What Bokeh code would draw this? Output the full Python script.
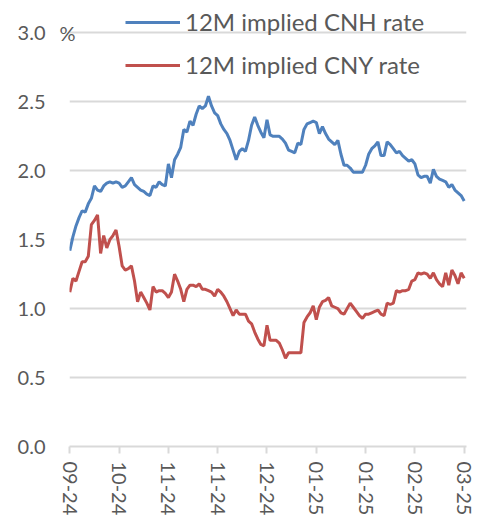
from bokeh.plotting import figure
from bokeh.models import FixedTicker, Range1d, Legend, LegendItem, LinearAxis, NumeralTickFormatter
from bokeh.embed import file_html
from bokeh.resources import INLINE

# ---- data ----
x_tick_labels = ["09-24", "10-24", "11-24", "11-24", "12-24", "01-25", "01-25", "02-25", "03-25"]
x_tick_positions = [0, 16, 32, 48, 64, 80, 96, 112, 128]

cnh_rate = [
    1.42, 1.52, 1.60, 1.66, 1.71, 1.70, 1.76, 1.80, 1.89, 1.86,
    1.85, 1.89, 1.91, 1.92, 1.91, 1.92, 1.91, 1.88, 1.89, 1.92,
    1.95, 1.90, 1.88, 1.86, 1.85, 1.83, 1.82, 1.89, 1.88, 1.92,
    1.90, 1.89, 2.05, 1.95, 2.08, 2.12, 2.17, 2.30, 2.28, 2.36,
    2.33, 2.41, 2.47, 2.45, 2.47, 2.54, 2.47, 2.42, 2.40, 2.34,
    2.30, 2.27, 2.22, 2.15, 2.08, 2.14, 2.16, 2.14, 2.22, 2.33,
    2.39, 2.33, 2.28, 2.24, 2.37, 2.26, 2.25, 2.25, 2.25, 2.23,
    2.20, 2.15, 2.14, 2.13, 2.20, 2.19, 2.30, 2.34, 2.35, 2.36,
    2.35, 2.27, 2.32, 2.27, 2.23, 2.21, 2.19, 2.22, 2.12, 2.04,
    2.04, 2.02, 1.99, 1.99, 1.99, 1.99, 2.04, 2.12, 2.16, 2.18,
    2.21, 2.11, 2.11, 2.21, 2.19, 2.16, 2.13, 2.14, 2.11, 2.09,
    2.07, 2.08, 2.05, 1.97, 1.95, 1.96, 1.96, 1.91, 2.01, 1.96,
    1.94, 1.93, 1.92, 1.88, 1.90, 1.86, 1.84, 1.82, 1.78,
]

cny_rate = [
    1.12, 1.22, 1.20, 1.27, 1.34, 1.34, 1.38, 1.61, 1.64, 1.68,
    1.40, 1.53, 1.44, 1.50, 1.53, 1.57, 1.45, 1.31, 1.28, 1.29,
    1.31, 1.20, 1.05, 1.12, 1.08, 1.04, 0.99, 1.16, 1.12, 1.13,
    1.13, 1.11, 1.08, 1.12, 1.25, 1.20, 1.14, 1.05, 1.14, 1.17,
    1.17, 1.16, 1.18, 1.14, 1.14, 1.13, 1.12, 1.09, 1.14, 1.12,
    1.09, 1.05, 1.00, 0.95, 0.99, 0.96, 0.96, 0.96, 0.91, 0.89,
    0.83, 0.78, 0.74, 0.73, 0.88, 0.77, 0.77, 0.77, 0.75, 0.70,
    0.64, 0.68, 0.68, 0.68, 0.68, 0.68, 0.90, 0.94, 0.97, 1.02,
    0.92, 1.01, 1.05, 1.06, 1.08, 1.02, 1.01, 1.00, 0.97, 0.96,
    1.00, 1.04, 1.01, 0.98, 0.95, 0.93, 0.96, 0.96, 0.97, 0.98,
    0.99, 0.96, 0.95, 1.04, 1.03, 1.04, 1.13, 1.12, 1.13, 1.13,
    1.14, 1.20, 1.21, 1.26, 1.25, 1.26, 1.25, 1.22, 1.26, 1.21,
    1.18, 1.16, 1.26, 1.17, 1.28, 1.24, 1.18, 1.26, 1.22,
]

y_ticks = [0.0, 0.5, 1.0, 1.5, 2.0, 2.5, 3.0]
unit_tick = 3
unit_text = "%"
series_names = ["12M implied CNH rate", "12M implied CNY rate"]

x = list(range(len(cnh_rate)))

FONT = "Lato"
GRAY = "#595959"
GRID = "#d9d9d9"

p = figure(
    width=483, height=518,
    x_range=Range1d(-0.1, 128.75), y_range=Range1d(0, 3.235),
    output_backend="svg", toolbar_location=None,
    min_border_left=69, min_border_right=17, min_border_top=0, min_border_bottom=60,
)
p.outline_line_color = None
p.background_fill_color = "white"
p.border_fill_color = "white"

r1 = p.line(x, cnh_rate, line_color="#4F81BD", line_width=3)
r2 = p.line(x, cny_rate, line_color="#C0504D", line_width=3)

# main y axis
main_y = p.yaxis[0]
main_y.ticker = FixedTicker(ticks=y_ticks)
main_y.formatter = NumeralTickFormatter(format="0.0")
main_y.axis_line_color = None
main_y.major_tick_line_color = None
main_y.minor_tick_line_color = None
main_y.major_tick_out = 0
main_y.minor_tick_out = 0
main_y.major_label_text_font = FONT
main_y.major_label_text_font_size = "20px"
main_y.major_label_text_color = GRAY
main_y.major_label_standoff = 11

# unit ("%") next to the top tick, as an inner axis
unit_axis = LinearAxis(
    ticker=FixedTicker(ticks=[unit_tick]),
    major_label_overrides={unit_tick: unit_text},
    axis_line_color=None, major_tick_line_color=None, minor_tick_line_color=None,
    major_tick_out=0, minor_tick_out=0, major_tick_in=0,
    major_label_standoff=-6,
    major_label_text_font=FONT, major_label_text_font_size="20px",
    major_label_text_color=GRAY,
)
p.left = [unit_axis, main_y]

# x axis
p.xaxis.ticker = FixedTicker(ticks=x_tick_positions)
p.xaxis.major_label_overrides = {t: l for t, l in zip(x_tick_positions, x_tick_labels)}
p.xaxis.major_label_orientation = "vertical"
p.xaxis.axis_line_color = GRID
p.xaxis.axis_line_width = 2
p.xaxis.major_tick_line_color = GRID
p.xaxis.major_tick_line_width = 2
p.xaxis.major_tick_in = 0
p.xaxis.major_tick_out = 7
p.xaxis.minor_tick_line_color = None
p.xaxis.minor_tick_out = 0
p.xaxis.major_label_text_font = FONT
p.xaxis.major_label_text_font_size = "20px"
p.xaxis.major_label_text_color = GRAY
p.xaxis.major_label_standoff = 8

p.xgrid.grid_line_color = None
p.ygrid.ticker = FixedTicker(ticks=y_ticks)
p.ygrid.grid_line_color = GRID
p.ygrid.grid_line_width = 2

legend = Legend(
    items=[LegendItem(label=series_names[0], renderers=[r1]),
           LegendItem(label=series_names[1], renderers=[r2])],
    location=(56, 367),
    orientation="vertical",
    background_fill_alpha=0, border_line_color=None,
    label_text_font=FONT, label_text_font_size="24px", label_text_color=GRAY,
    glyph_width=55, glyph_height=20, label_standoff=5, spacing=14, padding=0, margin=0,
)
p.add_layout(legend)

open("out.html", "w").write(file_html(p, INLINE))
